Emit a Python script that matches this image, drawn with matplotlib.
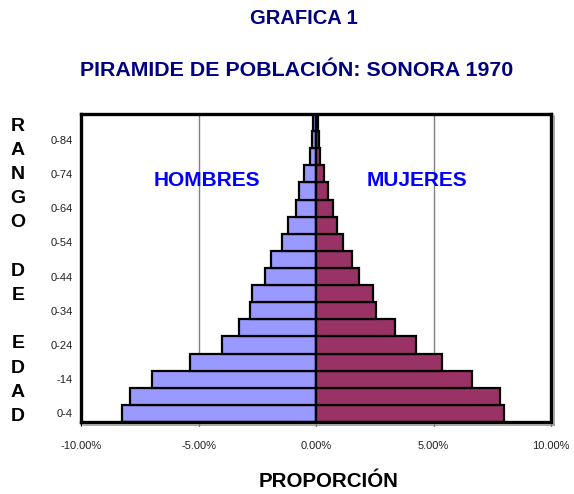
import matplotlib.pyplot as plt
from matplotlib.lines import Line2D

plt.rcParams['font.family'] = ['Liberation Sans', 'DejaVu Sans']

# age groups, bottom to top
edades = ['0-4', '5-9', '10-14', '15-19', '20-24', '25-29', '30-34', '35-39',
          '40-44', '45-49', '50-54', '55-59', '60-64', '65-69', '70-74',
          '75-79', '80-84', '85+']
# percent of total population
hombres = [8.25, 7.92, 6.97, 5.35, 4.00, 3.27, 2.79, 2.72, 2.17, 1.92,
           1.44, 1.20, 0.87, 0.72, 0.49, 0.27, 0.17, 0.12]
mujeres = [8.00, 7.83, 6.63, 5.37, 4.27, 3.35, 2.55, 2.41, 1.83, 1.55,
           1.14, 0.89, 0.72, 0.49, 0.35, 0.18, 0.13, 0.10]
# tick labels as they appear (cut off on the left in the original)
ytick_pos = [0, 2, 4, 6, 8, 10, 12, 14, 16]
ytick_lab = ['0-4', '-14', '0-24', '0-34', '0-44', '0-54', '0-64', '0-74', '0-84']
xticks = [-10, -5, 0, 5, 10]

W, H = 574, 494
fig = plt.figure(figsize=(W / 100, H / 100), dpi=100, facecolor='white')
ax = fig.add_axes([81 / W, 1 - 422 / H, (551 - 81) / W, (422 - 114) / H])

y = range(len(edades))
ax.barh(y, [-v for v in hombres], height=1.0, color='#9999FF',
        edgecolor='black', linewidth=1.6, zorder=3)
ax.barh(y, mujeres, height=1.0, color='#993366',
        edgecolor='black', linewidth=1.6, zorder=3)

ax.set_xlim(-10, 10)
ax.set_ylim(-0.5, len(edades) - 0.5)

# gridlines and zero axis
for gx in (-5, 5):
    ax.axvline(gx, color='#808080', linewidth=1.0, zorder=1)
ax.axvline(0, color='black', linewidth=1.6, zorder=4)

ax.set_xticks(xticks)
ax.set_xticklabels(['%.2f%%' % v for v in xticks], fontsize=8, color='#222222')
ax.tick_params(axis='x', direction='out', length=3, width=1, pad=11)
ax.set_yticks(ytick_pos)
ax.set_yticklabels(ytick_lab, fontsize=8, color='#222222')
ax.tick_params(axis='y', length=0, pad=6)

for s in ax.spines.values():
    s.set_linewidth(2.4)
    s.set_color('black')
    s.set_zorder(5)

# little shadow on right and bottom of the frame
fig.add_artist(Line2D([553.5 / W, 553.5 / W], [1 - 116 / H, 1 - 425 / H],
                      color='#9a9a9a', linewidth=1.2))
fig.add_artist(Line2D([84 / W, 553.5 / W], [1 - 424.5 / H, 1 - 424.5 / H],
                      color='#9a9a9a', linewidth=1.2))

ax.text(-4.65, 13.6, 'HOMBRES', color='#0000FF', fontsize=15, fontweight='bold',
        ha='center', va='center', zorder=6)
ax.text(4.3, 13.6, 'MUJERES', color='#0000FF', fontsize=15, fontweight='bold',
        ha='center', va='center', zorder=6)

fig.text(304 / W, 1 - 18 / H, 'GRAFICA 1', color='#000080', fontsize=14.5,
         fontweight='bold', ha='center', va='center')
fig.text(297 / W, 1 - 71 / H, 'PIRAMIDE DE POBLACIÓN: SONORA 1970', color='#000080',
         fontsize=15.4, fontweight='bold', ha='center', va='center')
fig.text(329 / W, 1 - 481 / H, 'PROPORCIÓN', color='black', fontsize=14.8,
         fontweight='bold', ha='center', va='center')

# vertical "RANGO DE EDAD" written letter by letter
letras = list('RANGO') + [''] + list('DE') + [''] + list('EDAD')
for i, ch in enumerate(letras):
    fig.text(18 / W, 1 - (126 + i * 24.2) / H, ch, fontsize=14,
             fontweight='bold', ha='center', va='center')

fig.savefig('out.png', dpi=100)
